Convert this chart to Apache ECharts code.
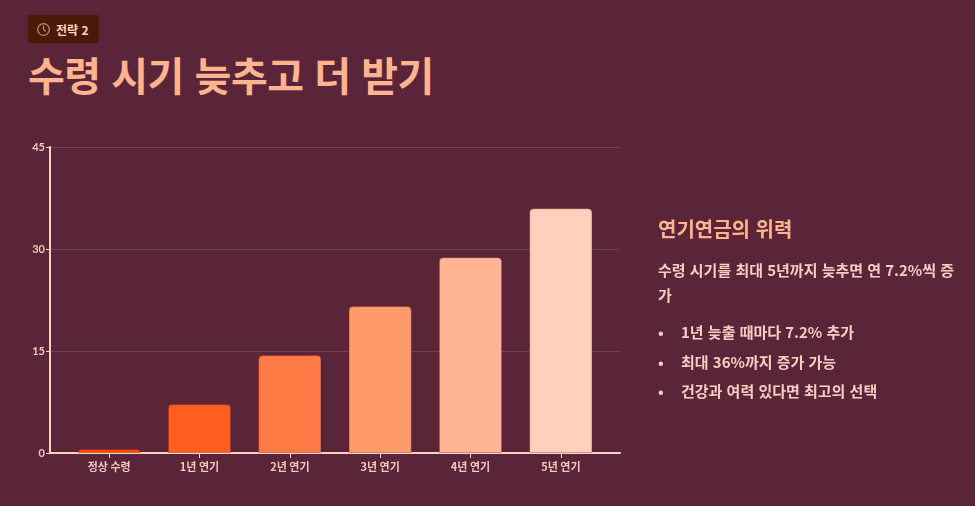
<!DOCTYPE html>
<html lang="ko">
<head>
<meta charset="utf-8">
<script src="https://cdn.jsdelivr.net/npm/echarts@6/dist/echarts.min.js"></script>
<style>
  html, body { margin: 0; padding: 0; }
  body {
    width: 975px; height: 506px; overflow: hidden; position: relative;
    background: #5a2439; font-family: "Noto Sans CJK KR", "Noto Sans", sans-serif;
  }
  #chart { position: absolute; left: 0; top: 0; width: 975px; height: 506px; }
  .badge {
    position: absolute; left: 28px; top: 15px; height: 28px; padding: 0 10px 0 8px;
    background: #4a1908; border-radius: 2px; color: #ffd5bf; font-size: 12px; font-weight: 700;
    display: flex; align-items: center; gap: 5px;
  }
  .badge svg { width: 15px; height: 15px; }
  h1 {
    position: absolute; left: 28px; top: 46px; margin: 0;
    font-size: 40px; font-weight: 700; color: #ffb38e; letter-spacing: -0.5px; line-height: 56px;
  }
  .side { position: absolute; left: 658px; top: 213px; width: 300px; color: #f3cfc2; }
  .side h2 { margin: 0 0 12px 0; font-size: 20px; font-weight: 700; color: #ffb38e; line-height: 32px; }
  .side p { margin: 0 0 10px 0; font-size: 15px; font-weight: 700; line-height: 25px; }
  .side ul { margin: 0; padding: 0; list-style: none; }
  .side li { font-size: 15px; font-weight: 700; line-height: 29.5px; position: relative; padding-left: 23px; }
  .side li::before { content: "•"; position: absolute; left: 0; }
</style>
</head>
<body>
<div class="badge">
  <svg viewBox="0 0 16 16"><circle cx="8" cy="8" r="6.2" fill="none" stroke="#c98a6a" stroke-width="1.3"/><path d="M8 4.5V8L10.2 9.6" fill="none" stroke="#c98a6a" stroke-width="1.3" stroke-linecap="round"/></svg>
  <span>전략 2</span>
</div>
<h1>수령 시기 늦추고 더 받기</h1>
<div id="chart"></div>
<div class="side">
  <h2>연기연금의 위력</h2>
  <p>수령 시기를 최대 5년까지 늦추면 연 7.2%씩 증가</p>
  <ul>
    <li>1년 늦출 때마다 7.2% 추가</li>
    <li>최대 36%까지 증가 가능</li>
    <li>건강과 여력 있다면 최고의 선택</li>
  </ul>
</div>
<script>
var categories = ['정상 수령', '1년 연기', '2년 연기', '3년 연기', '4년 연기', '5년 연기'];
var increaseRates = [0, 7.2, 14.4, 21.6, 28.8, 36];
var barColors = ['#ff4500', '#ff5e1f', '#ff7b45', '#ff9a6b', '#ffb593', '#ffd1bc'];
var yTicks = { min: 0, max: 45, interval: 15 };

var axisColor = '#ffd3c0';
var labelColor = '#f2c9bd';

var myChart = echarts.init(document.getElementById('chart'));
var option = {
  animation: false,
  // grid 0: frame, y axis and split lines; grid 1: padded category area with the bars
  grid: [
    { left: 50, top: 147, width: 570, height: 306 },
    { left: 64, top: 147, width: 542, height: 306 }
  ],
  xAxis: [
    {
      gridIndex: 0, type: 'category', data: [''],
      axisLine: { lineStyle: { color: axisColor, width: 2 } },
      axisTick: { show: false }, axisLabel: { show: false }
    },
    {
      gridIndex: 1, type: 'category', data: categories,
      axisLine: { show: false },
      axisTick: { show: true, alignWithLabel: true, length: 5, lineStyle: { color: axisColor } },
      axisLabel: { color: labelColor, fontSize: 11, fontWeight: 'bold', margin: 8,
        fontFamily: 'Noto Sans CJK KR' }
    }
  ],
  yAxis: [
    {
      gridIndex: 0, type: 'value',
      min: yTicks.min, max: yTicks.max, interval: yTicks.interval,
      axisLine: { show: true, lineStyle: { color: axisColor, width: 2 } },
      axisTick: { show: true, length: 4, lineStyle: { color: axisColor } },
      axisLabel: { color: labelColor, fontSize: 11, fontWeight: 'bold', margin: 5,
        fontFamily: 'Lato, sans-serif' },
      splitLine: { lineStyle: { color: 'rgba(255,255,255,0.14)', width: 1 } }
    },
    {
      gridIndex: 1, type: 'value', show: false,
      min: yTicks.min, max: yTicks.max, interval: yTicks.interval,
      splitLine: { show: false }
    }
  ],
  series: [{
    type: 'bar',
    xAxisIndex: 1, yAxisIndex: 1,
    barWidth: '70%',
    barMinHeight: 4,
    data: increaseRates.map(function (v, i) {
      return {
        value: v,
        itemStyle: { color: barColors[i], borderRadius: [4, 4, 0, 0],
          borderColor: 'rgba(120,30,40,0.35)', borderWidth: 1 }
      };
    })
  }]
};
myChart.setOption(option);
</script>
</body>
</html>
